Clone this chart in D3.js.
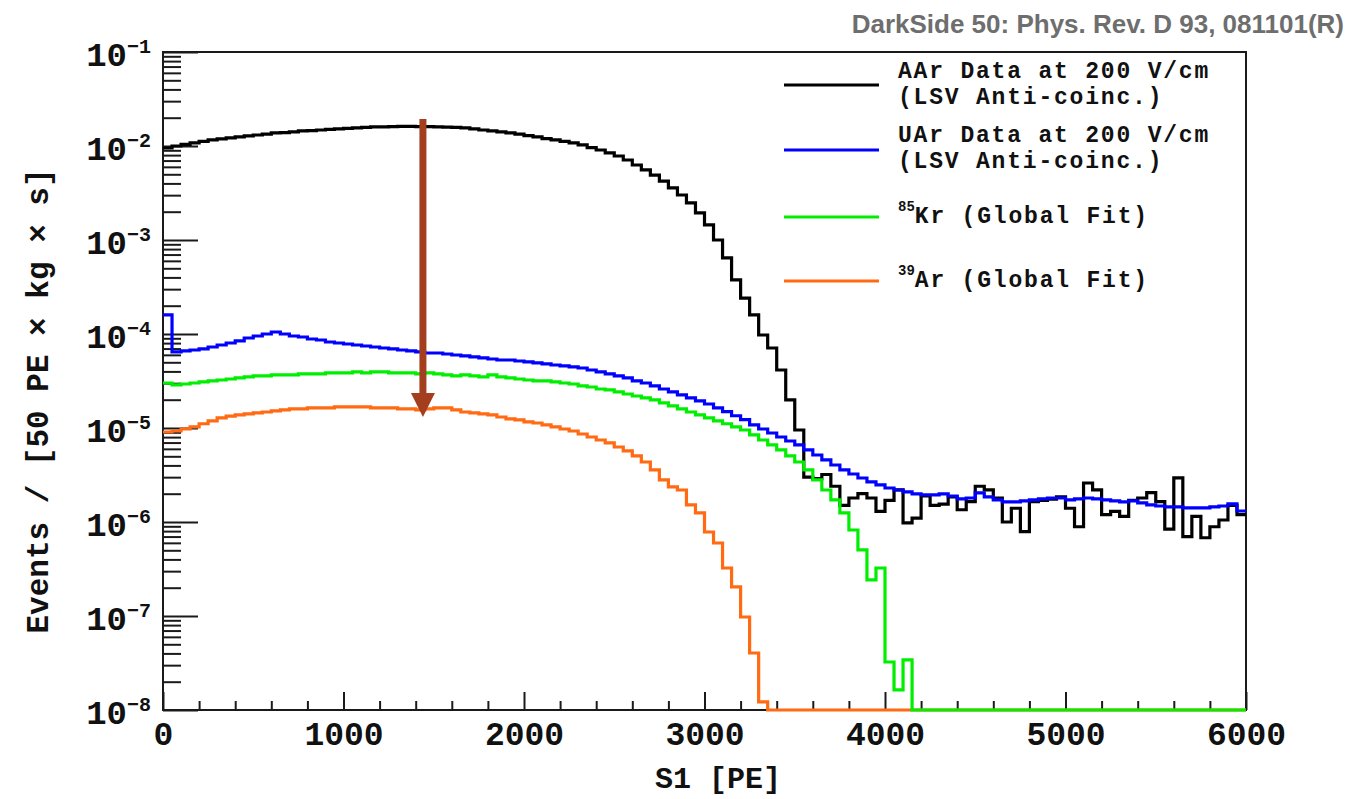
<!DOCTYPE html>
<html>
<head>
<meta charset="utf-8">
<script src="https://cdn.jsdelivr.net/npm/d3@7"></script>
<style>
  body { margin: 0; background: #ffffff; }
  svg { display: block; }
</style>
</head>
<body>
<svg id="chart" width="1371" height="799"></svg>
<script>
// S1 spectra, 50 PE bins from 0 to 6000 PE (120 bins)
const binWidth = 50;
const s1Range = [0, 6000];

// Atmospheric argon data (LSV anti-coincidence)
const aarData = [
  9.52e-3, 1.00e-2, 1.04e-2, 1.08e-2, 1.12e-2, 1.16e-2, 1.19e-2, 1.22e-2, 1.25e-2, 1.28e-2,
  1.31e-2, 1.34e-2, 1.38e-2, 1.39e-2, 1.41e-2, 1.45e-2, 1.46e-2, 1.48e-2, 1.50e-2, 1.52e-2,
  1.54e-2, 1.56e-2, 1.58e-2, 1.60e-2, 1.60e-2, 1.61e-2, 1.62e-2, 1.62e-2, 1.61e-2, 1.61e-2,
  1.60e-2, 1.59e-2, 1.58e-2, 1.56e-2, 1.52e-2, 1.48e-2, 1.45e-2, 1.41e-2, 1.38e-2, 1.34e-2,
  1.29e-2, 1.25e-2, 1.20e-2, 1.16e-2, 1.12e-2, 1.08e-2, 1.03e-2, 9.60e-3, 9.07e-3, 8.43e-3,
  7.83e-3, 7.10e-3, 6.28e-3, 5.56e-3, 4.91e-3, 4.24e-3, 3.58e-3, 3.01e-3, 2.48e-3, 1.94e-3,
  1.45e-3, 1.00e-3, 6.44e-4, 3.76e-4, 2.41e-4, 1.60e-4, 9.76e-5, 7.10e-5, 4.14e-5, 1.99e-5,
  9.52e-6, 3.0e-6, 2.9e-6, 3.2e-6, 2.4e-6, 1.5e-6, 1.8e-6, 2.0e-6, 1.8e-6, 1.3e-6,
  1.7e-6, 2.2e-6, 9.8e-7, 1.1e-6, 1.9e-6, 1.5e-6, 1.55e-6, 1.85e-6, 1.35e-6, 1.65e-6,
  2.4e-6, 2.2e-6, 1.8e-6, 1.0e-6, 1.4e-6, 7.9e-7, 1.65e-6, 1.7e-6, 1.75e-6, 1.85e-6,
  1.4e-6, 8.9e-7, 2.6e-6, 2.2e-6, 1.2e-6, 1.3e-6, 1.15e-6, 1.7e-6, 1.8e-6, 2.05e-6,
  1.65e-6, 8.4e-7, 2.95e-6, 7.0e-7, 1.15e-6, 6.8e-7, 8.9e-7, 1.05e-6, 1.5e-6, 1.2e-6
];

// Underground argon data (LSV anti-coincidence)
const uarData = [
  1.60e-4, 6.44e-5, 6.60e-5, 6.76e-5, 6.93e-5, 7.27e-5, 7.64e-5, 8.02e-5, 8.43e-5, 9.07e-5,
  9.52e-5, 1.00e-4, 1.05e-4, 1.00e-4, 9.52e-5, 9.29e-5, 8.85e-5, 8.63e-5, 8.22e-5, 8.02e-5,
  7.83e-5, 7.64e-5, 7.45e-5, 7.27e-5, 7.10e-5, 6.93e-5, 6.76e-5, 6.60e-5, 6.44e-5, 6.28e-5,
  6.28e-5, 6.13e-5, 5.98e-5, 5.84e-5, 5.70e-5, 5.56e-5, 5.42e-5, 5.29e-5, 5.29e-5, 5.16e-5,
  5.04e-5, 4.92e-5, 4.80e-5, 4.68e-5, 4.57e-5, 4.46e-5, 4.35e-5, 4.14e-5, 3.95e-5, 3.76e-5,
  3.58e-5, 3.41e-5, 3.17e-5, 3.01e-5, 2.80e-5, 2.60e-5, 2.42e-5, 2.25e-5, 2.09e-5, 1.94e-5,
  1.80e-5, 1.64e-5, 1.49e-5, 1.35e-5, 1.23e-5, 1.08e-5, 9.76e-6, 8.85e-6, 8.02e-6, 7.27e-6,
  6.60e-6, 5.84e-6, 5.16e-6, 4.57e-6, 4.04e-6, 3.58e-6, 3.24e-6, 2.94e-6, 2.67e-6, 2.48e-6,
  2.30e-6, 2.19e-6, 2.09e-6, 1.99e-6, 1.94e-6, 1.94e-6, 1.99e-6, 1.89e-6, 1.76e-6, 1.80e-6,
  2.04e-6, 1.85e-6, 1.72e-6, 1.64e-6, 1.64e-6, 1.68e-6, 1.72e-6, 1.76e-6, 1.80e-6, 1.80e-6,
  1.72e-6, 1.76e-6, 1.80e-6, 1.76e-6, 1.72e-6, 1.68e-6, 1.64e-6, 1.68e-6, 1.60e-6, 1.52e-6,
  1.48e-6, 1.45e-6, 1.45e-6, 1.41e-6, 1.41e-6, 1.41e-6, 1.45e-6, 1.48e-6, 1.56e-6, 1.31e-6
];

// 85Kr component from the global fit
const kr85Fit = [
  3.01e-5, 2.87e-5, 2.94e-5, 3.01e-5, 3.09e-5, 3.17e-5, 3.24e-5, 3.32e-5, 3.41e-5, 3.49e-5,
  3.58e-5, 3.58e-5, 3.67e-5, 3.67e-5, 3.67e-5, 3.76e-5, 3.76e-5, 3.76e-5, 3.85e-5, 3.85e-5,
  3.85e-5, 3.95e-5, 3.85e-5, 3.95e-5, 3.95e-5, 3.85e-5, 3.85e-5, 3.85e-5, 3.76e-5, 3.85e-5,
  3.76e-5, 3.67e-5, 3.58e-5, 3.67e-5, 3.58e-5, 3.49e-5, 3.67e-5, 3.49e-5, 3.41e-5, 3.32e-5,
  3.24e-5, 3.17e-5, 3.17e-5, 3.09e-5, 3.01e-5, 2.94e-5, 2.80e-5, 2.73e-5, 2.60e-5, 2.54e-5,
  2.42e-5, 2.30e-5, 2.19e-5, 2.09e-5, 1.99e-5, 1.85e-5, 1.72e-5, 1.60e-5, 1.48e-5, 1.38e-5,
  1.28e-5, 1.19e-5, 1.11e-5, 1.03e-5, 9.52e-6, 8.43e-6, 7.45e-6, 6.60e-6, 5.84e-6, 5.04e-6,
  4.35e-6, 3.58e-6, 2.80e-6, 2.19e-6, 1.72e-6, 1.25e-6, 8.22e-7, 5.04e-7, 2.42e-7, 3.24e-7,
  3.24e-8, 1.64e-8, 3.41e-8, 0, 0, 0, 0, 0, 0, 0,
  0, 0, 0, 0, 0, 0, 0, 0, 0, 0,
  0, 0, 0, 0, 0, 0, 0, 0, 0, 0,
  0, 0, 0, 0, 0, 0, 0, 0, 0, 0
];

// 39Ar component from the global fit
const ar39Fit = [
  9.07e-6, 9.29e-6, 9.76e-6, 1.03e-5, 1.11e-5, 1.19e-5, 1.28e-5, 1.34e-5, 1.38e-5, 1.41e-5,
  1.45e-5, 1.48e-5, 1.52e-5, 1.56e-5, 1.60e-5, 1.60e-5, 1.64e-5, 1.64e-5, 1.64e-5, 1.68e-5,
  1.68e-5, 1.68e-5, 1.68e-5, 1.64e-5, 1.64e-5, 1.64e-5, 1.60e-5, 1.60e-5, 1.56e-5, 1.60e-5,
  1.64e-5, 1.64e-5, 1.56e-5, 1.48e-5, 1.45e-5, 1.41e-5, 1.38e-5, 1.31e-5, 1.25e-5, 1.22e-5,
  1.16e-5, 1.13e-5, 1.08e-5, 1.03e-5, 9.76e-6, 9.29e-6, 8.63e-6, 8.02e-6, 7.45e-6, 6.93e-6,
  6.28e-6, 5.70e-6, 5.04e-6, 4.35e-6, 3.58e-6, 2.80e-6, 2.36e-6, 2.19e-6, 1.52e-6, 1.25e-6,
  7.83e-7, 5.98e-7, 3.24e-7, 2.04e-7, 9.76e-8, 4.04e-8, 1.22e-8, 0, 0, 0,
  0, 0, 0, 0, 0, 0, 0, 0, 0, 0,
  0, 0, 0, 0, 0, 0, 0, 0, 0, 0,
  0, 0, 0, 0, 0, 0, 0, 0, 0, 0,
  0, 0, 0, 0, 0, 0, 0, 0, 0, 0,
  0, 0, 0, 0, 0, 0, 0, 0, 0, 0
];

// Axis ticks
const xMajorTicks = [0, 1000, 2000, 3000, 4000, 5000, 6000];
const xMinorStep = 200;
const yDecadeExponents = [-8, -7, -6, -5, -4, -3, -2, -1];
const yRange = [1e-8, 1e-1];

// Legend entries (drawn in this order top to bottom)
const legendLabels = [
  { lines: ["AAr Data at 200 V/cm", "(LSV Anti-coinc.)"], sup: null },
  { lines: ["UAr Data at 200 V/cm", "(LSV Anti-coinc.)"], sup: null },
  { lines: ["Kr (Global Fit)"], sup: "85" },
  { lines: ["Ar (Global Fit)"], sup: "39" }
];
const legendColors = ["#000000", "#0000ff", "#00ee00", "#ff6a12"];

// Arrow annotation: from the AAr plateau down to the 39Ar level
const arrowS1 = 1440;
const arrowFrom = 1.94e-2;
const arrowTo = 1.31e-5;

const header = "DarkSide 50: Phys. Rev. D 93, 081101(R)";
const xTitle = "S1 [PE]";
const yTitle = "Events / [50 PE \u00d7 kg \u00d7 s]";

// ---------------------------------------------------------------------------
const plot = { left: 163, right: 1246, top: 52, bottom: 710 };
const monoFont = "'Liberation Mono', 'DejaVu Sans Mono', monospace";

const svg = d3.select("#chart");

const x = d3.scaleLinear().domain(s1Range).range([plot.left, plot.right]);
const y = d3.scaleLog().domain(yRange).range([plot.bottom, plot.top]);

// --- Axes -----------------------------------------------------------------
const xMinorTicks = d3.range(s1Range[0], s1Range[1] + 1, xMinorStep)
  .filter(v => !xMajorTicks.includes(v));

function styleAxis(g) {
  g.select(".domain").remove();
  g.selectAll(".tick line").attr("stroke", "#1a1a1a").attr("stroke-width", 2);
}

svg.append("g")
  .attr("transform", `translate(0,${plot.bottom})`)
  .call(d3.axisBottom(x).tickValues(xMinorTicks).tickSize(-9).tickFormat(""))
  .call(styleAxis);

const xAxisMajor = svg.append("g")
  .attr("transform", `translate(0,${plot.bottom})`)
  .call(d3.axisBottom(x).tickValues(xMajorTicks).tickSize(-18).tickPadding(12).tickFormat(d3.format("d")))
  .call(styleAxis);
xAxisMajor.selectAll(".tick text")
  .attr("font-family", monoFont)
  .attr("font-weight", "bold")
  .attr("font-size", 33)
  .attr("fill", "#111");

const yMinorTicks = [];
yDecadeExponents.slice(0, -1).forEach(e => {
  for (let k = 2; k <= 9; k++) yMinorTicks.push(k * Math.pow(10, e));
});
const yMajorTicks = yDecadeExponents.map(e => Math.pow(10, e));

svg.append("g")
  .attr("transform", `translate(${plot.left},0)`)
  .call(d3.axisLeft(y).tickValues(yMinorTicks).tickSize(-18).tickFormat(""))
  .call(styleAxis);

svg.append("g")
  .attr("transform", `translate(${plot.left},0)`)
  .call(d3.axisLeft(y).tickValues(yMajorTicks).tickSize(-35).tickFormat(""))
  .call(styleAxis);

// Decade labels 10^n with raised exponent
const yLabels = svg.append("g");
yDecadeExponents.forEach(e => {
  const t = yLabels.append("text")
    .attr("x", 151)
    .attr("y", y(Math.pow(10, e)) + 14)
    .attr("text-anchor", "end")
    .attr("font-family", monoFont)
    .attr("font-weight", "bold")
    .attr("fill", "#111");
  t.append("tspan").attr("font-size", 34).text("10");
  t.append("tspan").attr("font-size", 20).attr("dy", -13).text("\u2212" + Math.abs(e));
});

// Frame
svg.append("rect")
  .attr("x", plot.left).attr("y", plot.top)
  .attr("width", plot.right - plot.left).attr("height", plot.bottom - plot.top)
  .attr("fill", "none").attr("stroke", "#1a1a1a").attr("stroke-width", 2);

// Axis titles
svg.append("text")
  .attr("x", 718).attr("y", 788)
  .attr("text-anchor", "middle")
  .attr("font-family", monoFont).attr("font-weight", "bold").attr("font-size", 30)
  .attr("fill", "#111")
  .text(xTitle);

svg.append("text")
  .attr("transform", "translate(48,401) rotate(-90)")
  .attr("text-anchor", "middle")
  .attr("font-family", monoFont).attr("font-weight", "bold").attr("font-size", 31)
  .attr("fill", "#111")
  .text(yTitle);

// --- Histograms -------------------------------------------------------------
const floor = yRange[0];
function histPoints(values) {
  const pts = [];
  values.forEach((v, i) => {
    const lo = s1Range[0] + i * binWidth;
    const val = Math.max(v, floor);
    pts.push([lo, val], [lo + binWidth, val]);
  });
  return pts;
}
const histLine = d3.line().x(d => x(d[0])).y(d => y(d[1]));

const series = [
  { values: aarData, color: legendColors[0] },
  { values: ar39Fit, color: legendColors[3] },
  { values: kr85Fit, color: legendColors[2] },
  { values: uarData, color: legendColors[1] }
];
svg.append("g").selectAll("path")
  .data(series)
  .join("path")
  .attr("d", d => histLine(histPoints(d.values)))
  .attr("fill", "none")
  .attr("stroke", d => d.color)
  .attr("stroke-width", 3.2)
  .attr("stroke-linejoin", "miter");

// --- Legend -------------------------------------------------------------------
const legend = svg.append("g");
const legendRows = [
  { lineY: 85, textY: [78, 104] },
  { lineY: 150, textY: [142, 168] },
  { lineY: 217, textY: [223] },
  { lineY: 281, textY: [287] }
];
legendLabels.forEach((entry, i) => {
  const row = legendRows[i];
  legend.append("line")
    .attr("x1", 784).attr("x2", 879)
    .attr("y1", row.lineY).attr("y2", row.lineY)
    .attr("stroke", legendColors[i]).attr("stroke-width", 3.2);
  entry.lines.forEach((ln, j) => {
    const t = legend.append("text")
      .attr("x", 898).attr("y", row.textY[j])
      .attr("font-family", monoFont).attr("font-weight", "bold").attr("font-size", 23)
      .attr("letter-spacing", 1.8)
      .attr("fill", "#111");
    if (entry.sup && j === 0) {
      t.append("tspan").attr("font-size", 14).attr("letter-spacing", 0).attr("dy", -12).text(entry.sup);
      t.append("tspan").attr("dy", 12).text(ln);
    } else {
      t.text(ln);
    }
  });
});

// --- Arrow annotation -------------------------------------------------------
const ax = x(arrowS1);
const ay0 = y(arrowFrom);
const ay1 = y(arrowTo);
const headLen = 24, headHalf = 12;
const arrowColor = "#a33f1f";
svg.append("line")
  .attr("x1", ax).attr("x2", ax)
  .attr("y1", ay0).attr("y2", ay1 - headLen + 2)
  .attr("stroke", arrowColor).attr("stroke-width", 7);
svg.append("path")
  .attr("d", `M${ax - headHalf},${ay1 - headLen} L${ax + headHalf},${ay1 - headLen} L${ax},${ay1} Z`)
  .attr("fill", arrowColor);

// --- Header -----------------------------------------------------------------
svg.append("text")
  .attr("x", 1344).attr("y", 33)
  .attr("text-anchor", "end")
  .attr("font-family", "'Liberation Sans', Arial, sans-serif")
  .attr("font-weight", "bold").attr("font-size", 26)
  .attr("fill", "#6e6e6e")
  .text(header);
</script>
</body>
</html>
